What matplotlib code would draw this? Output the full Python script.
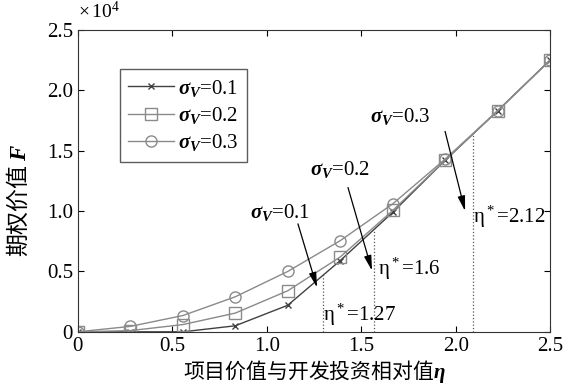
import numpy as np
import matplotlib
matplotlib.use("Agg")
import matplotlib.pyplot as plt

plt.rcParams['font.family'] = ['Liberation Serif', 'Noto Sans CJK SC']
plt.rcParams['mathtext.fontset'] = 'custom'
plt.rcParams['mathtext.rm'] = 'Liberation Serif'
plt.rcParams['mathtext.it'] = 'Liberation Serif:italic:bold'
plt.rcParams['mathtext.bf'] = 'Liberation Serif:bold'

# eta values (10 points from 0 to 2.5)
eta = [0, 0.278, 0.556, 0.833, 1.111, 1.389, 1.667, 1.944, 2.222, 2.5]
# option value F, units of 1e4
F_01 = [0, 0.0, 0.0, 0.05, 0.22, 0.59, 0.99, 1.42, 1.83, 2.25]
F_02 = [0, 0.01, 0.06, 0.155, 0.34, 0.62, 1.005, 1.42, 1.83, 2.25]
F_03 = [0, 0.045, 0.135, 0.29, 0.50, 0.755, 1.06, 1.43, 1.83, 2.25]

eta_star_pos = [1.296, 1.569, 2.09]   # where dotted lines sit
eta_star_top = [0.49, 0.855, 1.64]
eta_star_txt = ['1.27', '1.6', '2.12']
sig_labels = ['0.1', '0.2', '0.3']

fig = plt.figure(figsize=(5.73, 3.89), dpi=100)
ax = fig.add_axes([0.136, 0.147, 0.824, 0.776])

g = '#8a8a8a'
ax.plot(eta, F_01, color='#404040', lw=1.0, marker='x', ms=4, mec='#404040',
        label=r'$\sigma_V$=0.1')
ax.plot(eta, F_02, color=g, lw=1.0, marker='s', ms=8, mfc='none', mec=g,
        label=r'$\sigma_V$=0.2')
ax.plot(eta, F_03, color=g, lw=1.0, marker='o', ms=8, mfc='none', mec=g,
        label=r'$\sigma_V$=0.3')

for xs, top in zip(eta_star_pos, eta_star_top):
    ax.plot([xs, xs], [0, top], ls=':', color='#555555', lw=0.9)

ap = dict(arrowstyle='-|>,head_length=0.9,head_width=0.22', color='k', lw=0.9,
          shrinkA=0, shrinkB=0)
ax.annotate('', xy=(1.266, 0.367), xytext=(1.165, 0.894), arrowprops=ap)
ax.annotate('', xy=(1.557, 0.507), xytext=(1.43, 1.195), arrowprops=ap)
ax.annotate('', xy=(2.05, 1.0), xytext=(1.944, 1.66), arrowprops=ap)

ax.text(1.07, 0.985, r'$\sigma_V$=' + sig_labels[0], fontsize=15, ha='center', va='center')
ax.text(1.388, 1.343, r'$\sigma_V$=' + sig_labels[1], fontsize=15, ha='center', va='center')
ax.text(1.705, 1.783, r'$\sigma_V$=' + sig_labels[2], fontsize=15, ha='center', va='center')

ax.text(1.298, 0.136, r'$\mathrm{\eta}^*$=' + eta_star_txt[0], fontsize=15, ha='left', va='center')
ax.text(1.589, 0.523, r'$\mathrm{\eta}^*$=' + eta_star_txt[1], fontsize=15, ha='left', va='center')
ax.text(2.092, 0.951, r'$\mathrm{\eta}^*$=' + eta_star_txt[2], fontsize=15, ha='left', va='center')

ax.set_xlim(0, 2.5)
ax.set_ylim(0, 2.5)
ax.set_xticks([0, 0.5, 1.0, 1.5, 2.0, 2.5])
ax.set_xticklabels(['0', '0.5', '1.0', '1.5', '2.0', '2.5'])
ax.set_yticks([0, 0.5, 1.0, 1.5, 2.0, 2.5])
ax.set_yticklabels(['0', '0.5', '1.0', '1.5', '2.0', '2.5'])
ax.tick_params(direction='in', top=True, right=True, labelsize=15, length=4)
for s in ax.spines.values():
    s.set_color('#333333')

ax.text(0.0, 1.025, r'$\times\,\mathrm{10}^{\mathrm{4}}$', transform=ax.transAxes,
        fontsize=14, ha='left', va='bottom')

ax.set_xlabel(r'项目价值与开发投资相对值$\eta$', fontsize=15,
              family=['Noto Sans CJK SC'], labelpad=2)
ax.set_ylabel(r'期权价值 $F$', fontsize=16.5, family=['Noto Sans CJK SC'], va='center')
ax.yaxis.set_label_coords(-0.127, 0.437)

leg = ax.legend(loc='upper left', bbox_to_anchor=(0.066, 0.904), fontsize=15,
                frameon=True, fancybox=False, edgecolor='#333333',
                handlelength=2.2, handletextpad=0.2, borderpad=0.4,
                labelspacing=0.3)
leg.get_frame().set_linewidth(1.0)

fig.savefig('out.png', dpi=100)
